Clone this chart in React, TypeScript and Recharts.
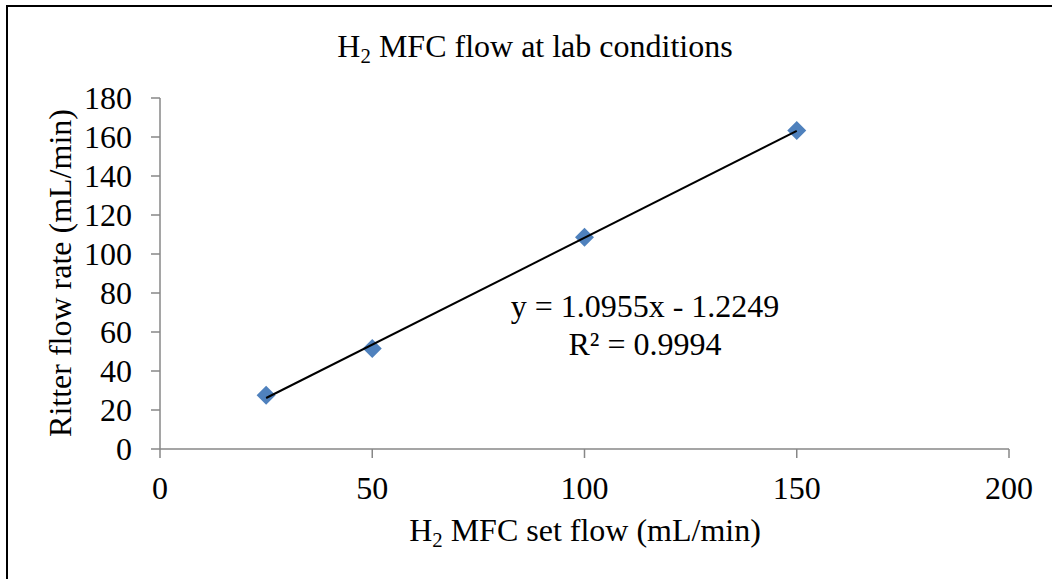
import React from 'react';
import { ScatterChart, Scatter, XAxis, YAxis, Customized } from 'recharts';

// Measured flow: MFC set point vs. Ritter drum meter reading (mL/min)
const setFlow = [25, 50, 100, 150];
const ritterFlow = [27.6, 51.6, 108.6, 163.3];

const xTicks = [0, 50, 100, 150, 200];
const yTicks = [0, 20, 40, 60, 80, 100, 120, 140, 160, 180];

// Linear trendline fitted to the measurements
const slope = 1.0955;
const intercept = -1.2249;
const rSquared = 0.9994;

const FONT = '"Liberation Serif", "Times New Roman", serif';
const FS = 32;
const AXIS_GRAY = '#878787';
const MARKER = '#4F81BD';

const points = setFlow.map((x, i) => ({ x, y: ritterFlow[i] }));
const fitX = [setFlow[0], setFlow[setFlow.length - 1]];
const trend = fitX.map((x) => ({ x, y: slope * x + intercept }));

const Diamond = (props: any) => {
  const { cx, cy } = props;
  if (cx == null || cy == null) return <g />;
  const r = 9.5;
  return (
    <polygon
      points={`${cx},${cy - r} ${cx + r},${cy} ${cx},${cy + r} ${cx - r},${cy}`}
      fill={MARKER}
    />
  );
};

// Serif tick labels for the horizontal axis (text hangs below the tick)
const XTick = (props: any) => {
  const { x, y, payload } = props;
  return (
    <text x={x} y={y} dy="0.71em" textAnchor="middle" fill="#000" fontSize={FS} fontFamily={FONT}>
      {payload.value}
    </text>
  );
};

// Serif tick labels for the vertical axis (right-aligned, vertically centred)
const YTick = (props: any) => {
  const { x, y, payload } = props;
  return (
    <text x={x} y={y} dy="0.355em" textAnchor="end" fill="#000" fontSize={FS} fontFamily={FONT}>
      {payload.value}
    </text>
  );
};

const Decorations = () => (
  <g fontFamily={FONT} fill="#000">
    <rect x={7} y={6} width={1200} height={800} fill="none" stroke="#000" strokeWidth={2} />
    <text x={535} y={57} textAnchor="middle" fontSize={FS}>
      <tspan>H</tspan>
      <tspan fontSize={FS * 0.65} dy={6}>2</tspan>
      <tspan dy={-6}>{' MFC flow at lab conditions'}</tspan>
    </text>
    <text x={585} y={541} textAnchor="middle" fontSize={FS}>
      <tspan>H</tspan>
      <tspan fontSize={FS * 0.65} dy={6}>2</tspan>
      <tspan dy={-6}>{' MFC set flow (mL/min)'}</tspan>
    </text>
    <text
      x={71}
      y={273}
      textAnchor="middle"
      fontSize={FS}
      transform="rotate(-90, 71, 273)"
    >
      Ritter flow rate (mL/min)
    </text>
    <text x={645} y={317} textAnchor="middle" fontSize={FS}>
      {`y = ${slope}x - ${Math.abs(intercept)}`}
    </text>
    <text x={645} y={355} textAnchor="middle" fontSize={FS}>
      {`R² = ${rSquared}`}
    </text>
  </g>
);

export default function App() {
  return (
    <div
      style={{
        position: 'absolute',
        left: 0,
        top: 0,
        background: '#fff',
        fontFamily: FONT,
      }}
    >
      <ScatterChart
        width={1052}
        height={579}
        margin={{ top: 98, right: 43, left: 0, bottom: 0 }}
      >
        <XAxis
          type="number"
          dataKey="x"
          domain={[0, 200]}
          ticks={xTicks}
          interval={0}
          height={130}
          tickSize={9}
          tickMargin={18}
          axisLine={{ stroke: AXIS_GRAY, strokeWidth: 1.5 }}
          tickLine={{ stroke: AXIS_GRAY, strokeWidth: 1.5 }}
          tick={<XTick />}
        />
        <YAxis
          type="number"
          dataKey="y"
          domain={[0, 180]}
          ticks={yTicks}
          interval={0}
          width={160}
          tickSize={9}
          tickMargin={19}
          axisLine={{ stroke: AXIS_GRAY, strokeWidth: 1.5 }}
          tickLine={{ stroke: AXIS_GRAY, strokeWidth: 1.5 }}
          tick={<YTick />}
        />
        <Scatter data={points} shape={<Diamond />} isAnimationActive={false} />
        <Scatter
          data={trend}
          line={{ stroke: '#000', strokeWidth: 2 }}
          shape={() => <g />}
          isAnimationActive={false}
        />
        <Customized component={Decorations} />
      </ScatterChart>
    </div>
  );
}
